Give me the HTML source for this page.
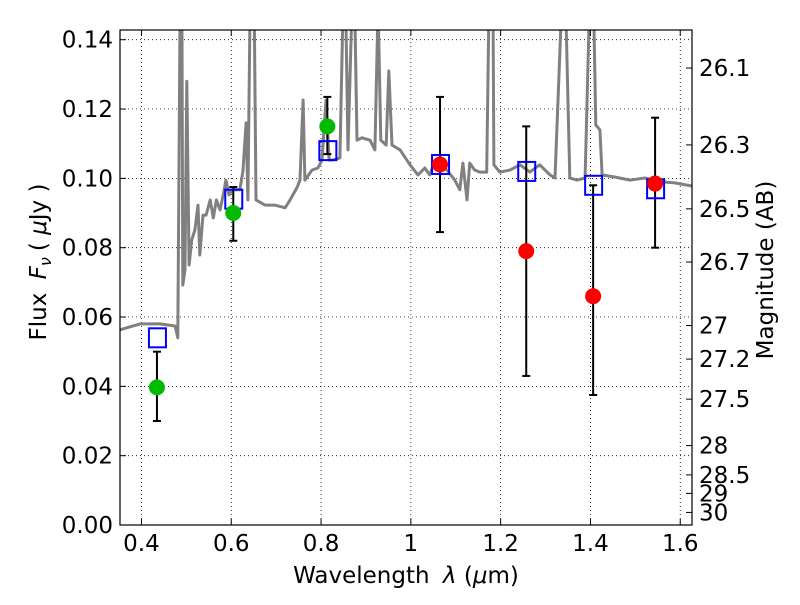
<!DOCTYPE html>
<html><head><meta charset="utf-8"><style>
html,body{margin:0;padding:0;background:#fff;}
svg text{font-family:"DejaVu Sans","Liberation Sans",sans-serif;fill:#000;}
</style></head><body>
<svg id="chart" width="800" height="600" xmlns="http://www.w3.org/2000/svg"></svg>
<script>
const xTicks=[0.4,0.6,0.8,1.0,1.2,1.4,1.6];
const xTickLabels=["0.4","0.6","0.8","1","1.2","1.4","1.6"];
const yTicks=[0,0.02,0.04,0.06,0.08,0.1,0.12,0.14];
const yTickLabels=["0.00","0.02","0.04","0.06","0.08","0.10","0.12","0.14"];
const magTicks=[26.1,26.3,26.5,26.7,27,27.2,27.5,28,28.5,29,30];
const magTickLabels=["26.1","26.3","26.5","26.7","27","27.2","27.5","28","28.5","29","30"];
const specLam=[0.352,0.397,0.441,0.475,0.481,0.486,0.490,0.492,0.497,0.501,0.506,0.512,0.519,0.526,0.530,0.537,0.544,0.553,0.560,0.567,0.575,0.582,0.588,0.595,0.602,0.619,0.626,0.633,0.637,0.642,0.651,0.655,0.675,0.697,0.720,0.731,0.747,0.753,0.760,0.764,0.780,0.793,0.802,0.811,0.818,0.827,0.842,0.849,0.855,0.860,0.869,0.875,0.880,0.891,0.909,0.920,0.927,0.933,0.945,0.951,0.958,0.976,0.998,1.016,1.031,1.042,1.053,1.065,1.080,1.098,1.109,1.116,1.125,1.131,1.142,1.154,1.169,1.174,1.183,1.185,1.198,1.221,1.243,1.265,1.287,1.310,1.321,1.336,1.345,1.354,1.370,1.388,1.398,1.407,1.412,1.421,1.426,1.454,1.488,1.521,1.555,1.588,1.626];
const specFlux=[0.0563,0.0580,0.0580,0.0574,0.054,0.15,0.15,0.0692,0.0736,0.128,0.0750,0.0822,0.0851,0.0923,0.0779,0.0894,0.0894,0.0938,0.0886,0.0938,0.0909,0.0952,0.0995,0.0952,0.0967,0.0967,0.102,0.116,0.0938,0.15,0.15,0.0938,0.0923,0.0923,0.0915,0.0938,0.0975,0.0995,0.1226,0.0995,0.1024,0.103,0.1053,0.1226,0.1053,0.1053,0.1059,0.15,0.15,0.1082,0.15,0.15,0.111,0.1117,0.111,0.1082,0.15,0.111,0.1096,0.131,0.1096,0.1082,0.1039,0.101,0.103,0.101,0.1047,0.1044,0.1024,0.0995,0.0967,0.1044,0.0938,0.1044,0.1024,0.1018,0.1018,0.15,0.15,0.1039,0.1018,0.1024,0.1039,0.1018,0.1039,0.101,0.1001,0.15,0.15,0.1001,0.0995,0.1001,0.15,0.15,0.1154,0.114,0.101,0.1004,0.0995,0.1001,0.099,0.0987,0.0978];
const bandLam=[0.4345,0.6045,0.814,1.065,1.257,1.406,1.544];
const modelFlux=[0.054,0.094,0.108,0.104,0.102,0.098,0.097];
const obsFlux=[0.0397,0.090,0.115,0.104,0.079,0.066,0.0985];
const obsLo=[0.030,0.082,0.107,0.0845,0.043,0.0375,0.080];
const obsHi=[0.050,0.0975,0.1235,0.1235,0.115,0.098,0.1175];
const obsColor=["#00bb00","#00bb00","#00bb00","#ff0000","#ff0000","#ff0000","#ff0000"];

const L=120,R=692,T=30,B=525;
const xMin=0.3522,xMax=1.6262,yMin=0,yMax=0.1428;
const X=v=>L+(v-xMin)/(xMax-xMin)*(R-L);
const Y=v=>B-(v-yMin)/(yMax-yMin)*(B-T);
const magToFlux=m=>Math.pow(10,(23.9-m)/2.5);
const svg=document.getElementById('chart');
const NS="http://www.w3.org/2000/svg";
function mk(tag,attrs,parent){const e=document.createElementNS(NS,tag);for(const k in attrs)e.setAttribute(k,attrs[k]);(parent||svg).appendChild(e);return e;}

const defs=mk('defs',{});
const cp=mk('clipPath',{id:'clip'},defs);
mk('rect',{x:L,y:T,width:R-L,height:B-T},cp);

const grid=mk('g',{});


xTicks.forEach(v=>{mk('line',{x1:X(v),x2:X(v),y1:T,y2:B,stroke:'#000','stroke-width':0.8,'stroke-dasharray':'1,3'},grid);});
yTicks.forEach(v=>{mk('line',{x1:L,x2:R,y1:Y(v),y2:Y(v),stroke:'#000','stroke-width':0.8,'stroke-dasharray':'1,3'},grid);});

const plot=mk('g',{'clip-path':'url(#clip)'});
let d='';specLam.forEach((l,i)=>{d+=(i?'L':'M')+X(l).toFixed(1)+','+Y(specFlux[i]).toFixed(1);});
const sp=mk('path',{d:d,fill:'none',stroke:'#808080','stroke-width':3,'stroke-linejoin':'round'},plot);



bandLam.forEach((l,i)=>{
  const g=mk('g',{},plot);
  
  
  const x=X(l);
  mk('line',{x1:x,x2:x,y1:Y(obsLo[i]),y2:Y(obsHi[i]),stroke:'#000','stroke-width':2},g);
  mk('line',{x1:x-4,x2:x+4,y1:Y(obsLo[i]),y2:Y(obsLo[i]),stroke:'#000','stroke-width':2},g);
  mk('line',{x1:x-4,x2:x+4,y1:Y(obsHi[i]),y2:Y(obsHi[i]),stroke:'#000','stroke-width':2},g);
});
bandLam.forEach((l,i)=>{
  const r=mk('rect',{x:X(l)-8,y:Y(modelFlux[i])-9.5,width:17,height:19,fill:'none',stroke:'#0000ff','stroke-width':2},plot);
  
  
});
bandLam.forEach((l,i)=>{
  const c=mk('circle',{cx:X(l),cy:Y(obsFlux[i]),r:8,fill:obsColor[i]},plot);
  
  
});

const fr=mk('rect',{x:L,y:T,width:R-L,height:B-T,fill:'none',stroke:'#000','stroke-width':1.2});



xTicks.forEach((v,i)=>{
  const x=X(v);
  mk('line',{x1:x,x2:x,y1:B,y2:B-6,stroke:'#000'});
  mk('line',{x1:x,x2:x,y1:T,y2:T+6,stroke:'#000'});
  const t=mk('text',{x:x,y:B+26,'font-size':23,'text-anchor':'middle'});
  t.textContent=xTickLabels[i];
  
  
});
yTicks.forEach((v,i)=>{
  const y=Y(v);
  mk('line',{x1:L,x2:L+6,y1:y,y2:y,stroke:'#000'});
  const t=mk('text',{x:L-7,y:y+8,'font-size':23,'text-anchor':'end'});
  t.textContent=yTickLabels[i];
  
  
});
magTicks.forEach((m,i)=>{
  const y=Y(magToFlux(m));
  mk('line',{x1:R,x2:R-6,y1:y,y2:y,stroke:'#000'});
  const t=mk('text',{x:R+7,y:y+8,'font-size':23,'text-anchor':'start'});
  t.textContent=magTickLabels[i];
  
  
});

const xt=mk('text',{x:406,y:583,'font-size':23,'text-anchor':'middle'});
xt.innerHTML='Wavelength  <tspan dx="6" font-style="italic">λ</tspan> (<tspan font-style="italic">μ</tspan>m)';


const yt=mk('text',{x:0,y:0,'font-size':23,'text-anchor':'middle',transform:'translate(46,262) rotate(-90)'});
yt.innerHTML='Flux  <tspan dx="6" font-style="italic">F</tspan><tspan font-style="italic" font-size="16" dy="5">ν</tspan><tspan dy="-5" dx="6">( </tspan><tspan font-style="italic">μ</tspan>Jy )';


const rt=mk('text',{x:0,y:0,'font-size':23,'text-anchor':'middle',transform:'translate(773,270) rotate(-90)'});
rt.textContent='Magnitude (AB)';


</script>
</body></html>
